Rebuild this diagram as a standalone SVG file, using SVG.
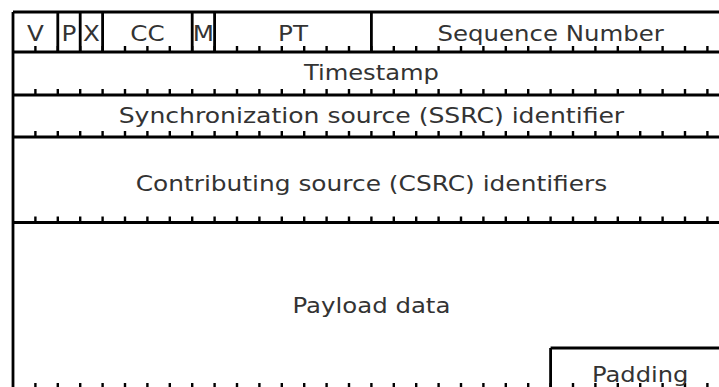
<svg xmlns="http://www.w3.org/2000/svg" width="719" height="387" viewBox="0 0 719 387">
<style>
.ln{stroke:#000;stroke-width:2.8;fill:none}
.tk{stroke:#000;stroke-width:2.4;fill:none}
.t{font-family:"DejaVu Sans","Liberation Sans",sans-serif;font-size:22px;fill:#333;text-anchor:middle}
</style>
<defs>
<path id="ticks" class="tk" d="M35.4 0v-6M57.8 0v-6M80.2 0v-6M102.6 0v-6M125 0v-6M147.4 0v-6M169.8 0v-6M192.2 0v-6M214.6 0v-6M237 0v-6M259.4 0v-6M281.8 0v-6M304.2 0v-6M326.6 0v-6M349 0v-6M371.4 0v-6M393.8 0v-6M416.2 0v-6M438.6 0v-6M461 0v-6M483.4 0v-6M505.8 0v-6M528.2 0v-6M550.6 0v-6M573 0v-6M595.4 0v-6M617.8 0v-6M640.2 0v-6M662.6 0v-6M685 0v-6M707.4 0v-6"/>
</defs>
<rect width="719" height="387" fill="#fff"/>
<g id="frame">
<path class="ln" d="M13 12H735M13 52H735M13 95H735M13 137H735M13 222.5H735M13 389H735M13 12V392"/>
<path class="ln" d="M57.8 12V52M80.2 12V52M102.6 12V52M192.2 12V52M214.6 12V52M371.4 12V52"/>
<use href="#ticks" y="52"/>
<use href="#ticks" y="95"/>
<use href="#ticks" y="137"/>
<use href="#ticks" y="222.5"/>
<use href="#ticks" y="389"/>
</g>
<g id="field-v"><text class="t" transform="translate(35.4,41) scale(1.12,1)">V</text></g>
<g id="field-p"><text class="t" transform="translate(69,41) scale(1.12,1)">P</text></g>
<g id="field-x"><text class="t" transform="translate(91.4,41) scale(1.12,1)">X</text></g>
<g id="field-cc"><text class="t" transform="translate(147.4,41) scale(1.12,1)">CC</text></g>
<g id="field-m"><text class="t" transform="translate(203.4,41) scale(1.12,1)">M</text></g>
<g id="field-pt"><text class="t" transform="translate(293,41) scale(1.12,1)">PT</text></g>
<g id="field-seq"><text class="t" transform="translate(550.6,41) scale(1.11,1)">Sequence Number</text></g>
<g id="field-timestamp"><text class="t" transform="translate(371.4,80) scale(1.1,1)">Timestamp</text></g>
<g id="field-ssrc"><text class="t" transform="translate(371.4,123) scale(1.14,1)">Synchronization source (SSRC) identifier</text></g>
<g id="field-csrc"><text class="t" transform="translate(371.4,191) scale(1.13,1)">Contributing source (CSRC) identifiers</text></g>
<g id="field-payload"><text class="t" transform="translate(371.4,313) scale(1.11,1)">Payload data</text></g>
<g id="field-padding">
<path class="ln" d="M550.6 348V392M550.6 348H735"/>
<text class="t" transform="translate(640.2,382) scale(1.1,1)">Padding</text>
</g>
</svg>
